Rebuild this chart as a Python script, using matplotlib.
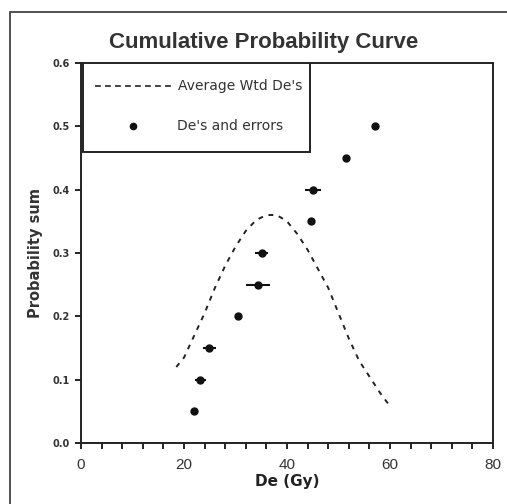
import matplotlib
matplotlib.use('Agg')
import matplotlib.pyplot as plt
from matplotlib.lines import Line2D
from matplotlib.patches import Rectangle

# dashed curve: average weighted De's
curve_x = [18.5, 20, 22, 24, 26, 28, 30, 32, 34, 36, 38, 40, 42, 44, 46, 48, 50, 52, 54, 56, 58, 60]
curve_y = [0.12, 0.135, 0.17, 0.205, 0.245, 0.28, 0.31, 0.335, 0.352, 0.36, 0.36, 0.35,
           0.33, 0.305, 0.275, 0.245, 0.205, 0.165, 0.13, 0.105, 0.08, 0.058]

# individual De's with errors
de_x = [22.0, 23.2, 24.9, 30.5, 34.4, 35.1, 44.6, 45.0, 51.5, 57.0]
de_y = [0.05, 0.10, 0.15, 0.20, 0.25, 0.30, 0.35, 0.40, 0.45, 0.50]
de_err = [0.3, 1.0, 1.3, 0.3, 2.3, 1.3, 0.3, 1.6, 0.3, 0.3]

plt.rcParams['font.family'] = ['Liberation Sans', 'DejaVu Sans']
wide = ['DejaVu Sans']

fig = plt.figure(figsize=(5.07, 5.04), dpi=100)
ax = fig.add_axes([0.1598, 0.121, 0.8126, 0.754])

ax.plot(curve_x, curve_y, color='#222222', lw=1.4, dashes=(2.5, 3))
ax.errorbar(de_x, de_y, xerr=de_err, fmt='o', color='#111111', ms=5,
            elinewidth=1.5, capsize=0)

ax.set_xlim(0, 80)
ax.set_ylim(0, 0.6)
ax.set_xticks([0, 20, 40, 60, 80])
ax.set_xticks(range(0, 81, 4), minor=True)
ax.set_yticks([0, 0.1, 0.2, 0.3, 0.4, 0.5, 0.6])
ax.set_yticklabels(['0.0', '0.1', '0.2', '0.3', '0.4', '0.5', '0.6'],
                   fontsize=7, fontweight='bold', color='#333333', family=wide)
ax.tick_params(axis='x', labelsize=11, labelcolor='#333333', length=4, width=1.2,
               direction='out', pad=7)
ax.tick_params(axis='x', which='minor', length=4, width=1.2, direction='out')
ax.tick_params(axis='y', length=4, width=1.2, direction='out', pad=4)
for s in ax.spines.values():
    s.set_linewidth(1.4)
    s.set_color('#222222')

ax.set_xlabel('De (Gy)', fontsize=11, fontweight='bold', labelpad=1, family=wide,
              color='#222222')
ax.set_ylabel('Probability sum', fontsize=10.5, fontweight='bold', labelpad=7, family=wide,
              color='#333333')
fig.text(0.519, 0.915, 'Cumulative Probability Curve', ha='center', va='center',
         fontsize=16, fontweight='bold', color='#333333')

# legend box drawn in axes coordinates
lg = Rectangle((0.005, 0.765), 0.55, 0.235, transform=ax.transAxes, fill=True,
               facecolor='white', edgecolor='#222222', lw=1.4, zorder=5)
ax.add_patch(lg)
ax.add_line(Line2D([0.033, 0.222], [0.94, 0.94], transform=ax.transAxes, color='#222222',
                   lw=1.2, dashes=(3.5, 2.5), zorder=6))
ax.text(0.235, 0.94, "Average Wtd De's", transform=ax.transAxes, va='center',
        fontsize=10, color='#333333', zorder=6, family=wide)
ax.plot([0.125], [0.835], 'o', color='#111111', ms=4.5, transform=ax.transAxes,
        zorder=6, clip_on=False)
ax.text(0.232, 0.835, "De's and errors", transform=ax.transAxes, va='center',
        fontsize=10, color='#333333', zorder=6, family=wide)

# outer chart frame (left and top edges visible)
fig.add_artist(Rectangle((0.019, -0.1), 1.2, 1.076, transform=fig.transFigure,
                         fill=False, edgecolor='#333333', lw=1.2))

fig.savefig('out.png', dpi=100)
